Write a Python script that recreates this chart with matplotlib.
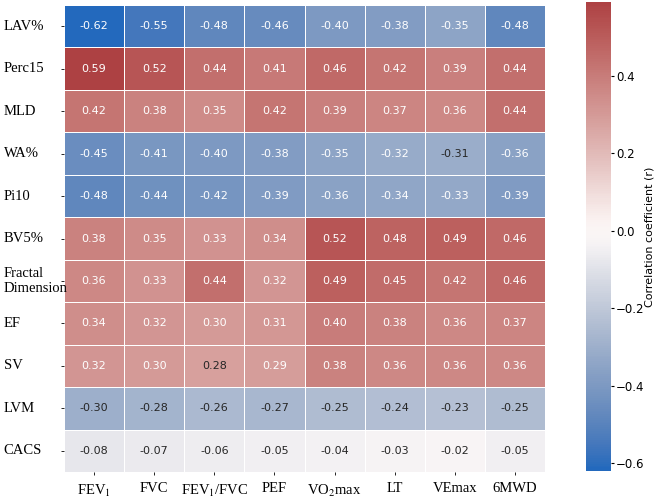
import numpy as np
import pandas as pd
import seaborn as sns
import matplotlib.pyplot as plt

plt.rcParams['mathtext.fontset'] = 'stix'

rows = ['LAV%', 'Perc15', 'MLD', 'WA%', 'Pi10', 'BV5%', 'Fractal\nDimension',
        'EF', 'SV', 'LVM', 'CACS']
cols = ['FEV$_1$', 'FVC', 'FEV$_1$/FVC', 'PEF', 'VO$_2$max', 'LT', 'VEmax', '6MWD']

lav = [-0.62, -0.55, -0.48, -0.46, -0.40, -0.38, -0.35, -0.48]
perc15 = [0.59, 0.52, 0.44, 0.41, 0.46, 0.42, 0.39, 0.44]
mld = [0.42, 0.38, 0.35, 0.42, 0.39, 0.37, 0.36, 0.44]
wa = [-0.45, -0.41, -0.40, -0.38, -0.35, -0.32, -0.31, -0.36]
pi10 = [-0.48, -0.44, -0.42, -0.39, -0.36, -0.34, -0.33, -0.39]
bv5 = [0.38, 0.35, 0.33, 0.34, 0.52, 0.48, 0.49, 0.46]
fractal = [0.36, 0.33, 0.44, 0.32, 0.49, 0.45, 0.42, 0.46]
ef = [0.34, 0.32, 0.30, 0.31, 0.40, 0.38, 0.36, 0.37]
sv = [0.32, 0.30, 0.28, 0.29, 0.38, 0.36, 0.36, 0.36]
lvm = [-0.30, -0.28, -0.26, -0.27, -0.25, -0.24, -0.23, -0.25]
cacs = [-0.08, -0.07, -0.06, -0.05, -0.04, -0.03, -0.02, -0.05]

df = pd.DataFrame([lav, perc15, mld, wa, pi10, bv5, fractal, ef, sv, lvm, cacs],
                  index=rows, columns=cols)

fig = plt.figure(figsize=(6.59, 5.01), dpi=100)
ax = fig.add_axes([64/659, 1 - 472/501, 481/659, 467/501])
cax = fig.add_axes([586/659, 1 - 471/501, 25/659, 469/501])

sns.heatmap(df, ax=ax, cbar_ax=cax, cmap='vlag', center=0, annot=True, fmt='.2f',
            annot_kws={'size': 8}, linewidths=0.5, linecolor='white',
            cbar_kws={'label': 'Correlation coefficient (r)'})

ax.set_yticklabels(rows, rotation=0, ha='left', family='Liberation Serif', fontsize=10.5,
                   linespacing=1.15)
ax.tick_params(axis='y', pad=41, length=2.5, width=0.6)
ax.set_xticklabels(cols, rotation=0, family='Liberation Serif', fontsize=10.5)
ax.tick_params(axis='x', pad=5, length=2.5, width=0.6)

cax.tick_params(labelsize=8.5, length=2.5, pad=1)
cax.set_ylabel('Correlation coefficient (r)', fontsize=8, labelpad=0)

fig.savefig('out.png', dpi=100)
